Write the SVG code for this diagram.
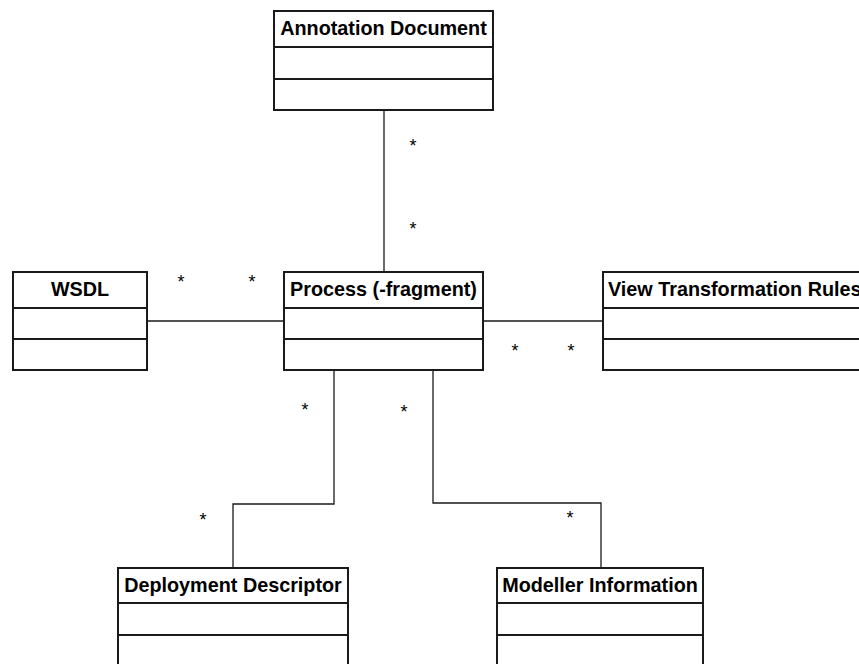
<svg xmlns="http://www.w3.org/2000/svg" width="859" height="664" viewBox="0 0 859 664">
<style>
.box{fill:#fff;stroke:#1a1a1a;stroke-width:2}
.div{stroke:#1a1a1a;stroke-width:2}
.title{font-family:"Liberation Sans",Arial,sans-serif;font-weight:bold;font-size:19.8px;fill:#000;text-anchor:middle}
.conn{fill:none;stroke:#1a1a1a;stroke-width:1.3}
.mult{font-family:"Liberation Sans",Arial,sans-serif;font-size:18px;fill:#000;text-anchor:middle}
</style>
<rect width="859" height="664" fill="#fff"/>
<g id="connectors">
<path class="conn" d="M384,110 V272"/>
<path class="conn" d="M147,321 H284"/>
<path class="conn" d="M483,321 H603"/>
<path class="conn" d="M334,370 V504 H233 V568"/>
<path class="conn" d="M433,370 V503 H601 V568"/>
<text class="mult" x="413" y="152">*</text>
<text class="mult" x="413" y="235">*</text>
<text class="mult" x="181" y="288">*</text>
<text class="mult" x="252" y="288">*</text>
<text class="mult" x="515" y="357">*</text>
<text class="mult" x="571" y="357">*</text>
<text class="mult" x="305" y="416">*</text>
<text class="mult" x="404" y="418">*</text>
<text class="mult" x="203" y="526">*</text>
<text class="mult" x="570" y="524">*</text>
</g>
<g id="annotation-document">
<rect class="box" x="274" y="11" width="219" height="99"/>
<line class="div" x1="274" y1="47" x2="493" y2="47"/>
<line class="div" x1="274" y1="79" x2="493" y2="79"/>
<text class="title" x="383.5" y="35">Annotation Document</text>
</g>
<g id="wsdl">
<rect class="box" x="13" y="272" width="134" height="98"/>
<line class="div" x1="13" y1="308" x2="147" y2="308"/>
<line class="div" x1="13" y1="339" x2="147" y2="339"/>
<text class="title" x="80" y="296">WSDL</text>
</g>
<g id="process">
<rect class="box" x="284" y="272" width="199" height="98"/>
<line class="div" x1="284" y1="308" x2="483" y2="308"/>
<line class="div" x1="284" y1="339" x2="483" y2="339"/>
<text class="title" x="383.5" y="296">Process (-fragment)</text>
</g>
<g id="view-transformation-rules">
<rect class="box" x="603" y="272" width="270" height="98"/>
<line class="div" x1="603" y1="308" x2="873" y2="308"/>
<line class="div" x1="603" y1="339" x2="873" y2="339"/>
<text class="title" x="608" y="296" style="text-anchor:start">View Transformation Rules</text>
</g>
<g id="deployment-descriptor">
<rect class="box" x="118" y="568" width="230" height="110"/>
<line class="div" x1="118" y1="603" x2="348" y2="603"/>
<line class="div" x1="118" y1="635" x2="348" y2="635"/>
<text class="title" x="233" y="592">Deployment Descriptor</text>
</g>
<g id="modeller-information">
<rect class="box" x="497" y="568" width="206" height="110"/>
<line class="div" x1="497" y1="603" x2="703" y2="603"/>
<line class="div" x1="497" y1="635" x2="703" y2="635"/>
<text class="title" x="600" y="592">Modeller Information</text>
</g>
</svg>
